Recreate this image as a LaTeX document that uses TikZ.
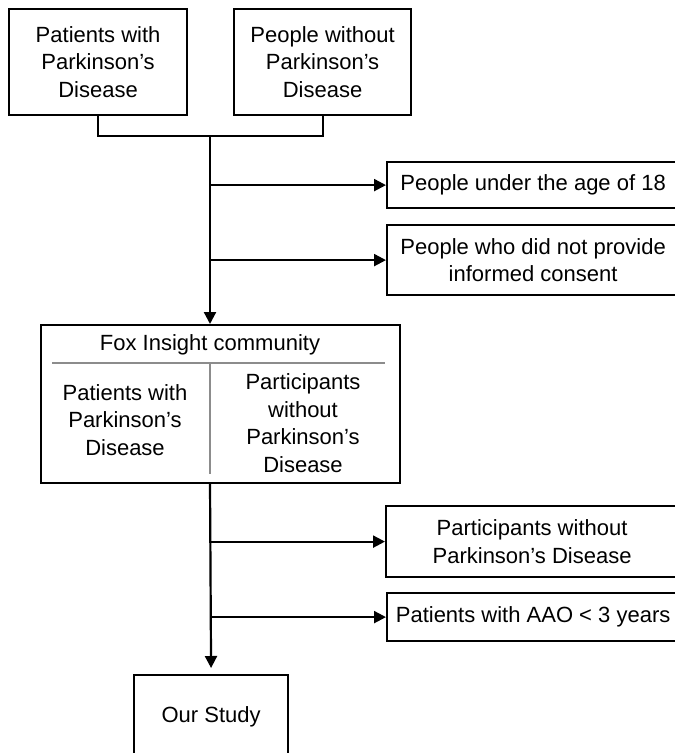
\documentclass[tikz,border=0pt]{standalone}
\usepackage{fontspec}
\setmainfont{Liberation Sans}
\usetikzlibrary{arrows.meta}
\begin{document}
\begin{tikzpicture}[x=1pt,y=-1pt,
  box/.style={draw,line width=2.2pt,anchor=north west,inner sep=0pt,align=center,
    font=\fontsize{22}{27.5}\selectfont},
  txt/.style={inner sep=0pt,align=center,font=\fontsize{22}{27.5}\selectfont},
  conn/.style={line width=2.2pt},
  arr/.style={line width=2.2pt,-{Triangle[length=12pt,width=12pt]}},
  divider/.style={line width=1.1pt,draw=black!45}]
\useasboundingbox (0,0) rectangle (675,753);
% top boxes
\node[box,minimum width=178pt,minimum height=106pt] (pd) at (8,8) {Patients with\\Parkinson’s\\Disease};
\node[box,minimum width=177pt,minimum height=106pt] (nopd) at (233,8) {People without\\Parkinson’s\\Disease};
\coordinate (j) at (210,136);
\draw[conn] (pd.south) -- (pd.south |- j) -| (nopd.south);
% exclusion boxes
\node[box,minimum width=292pt,minimum height=46pt] (age) at (386,161) {People under the age of 18};
\node[box,minimum width=292pt,minimum height=70pt] (consent) at (386,224) {People who did not provide\\informed consent};
% Fox insight box
\node[box,minimum width=359pt,minimum height=158pt] (fox) at (40,324) {};
\node[txt] (foxtitle) at (210,345) {Fox Insight community};
\node[txt] (foxleft) at (125,420) {Patients with\\Parkinson’s\\Disease};
\node[txt] (foxright) at (303,423) {Participants\\without\\Parkinson’s\\Disease};
\coordinate (dl) at (52,363);
\coordinate (dr) at (385,363);
\coordinate (dm) at (210,363);
\coordinate (db) at (210,474);
\draw[divider] (dl) -- (dr);
\draw[divider] (dm) -- (db);
% trunk to fox
\draw[arr] (j) -- (j |- fox.north);
\draw[arr] (age.west -| j) -- (age.west);
\draw[arr] (consent.west -| j) -- (consent.west);
% second exclusions
\node[box,minimum width=292pt,minimum height=71pt] (nopart) at (385,505) {Participants without\\Parkinson’s Disease};
\node[box,minimum width=292pt,minimum height=48pt] (aao) at (386,592) {Patients with AAO < 3 years};
% our study
\node[box,minimum width=154pt,minimum height=84pt] (study) at (133,674) {Our Study};
\coordinate (k) at (210,482);
\draw[arr,shorten >=6pt] (k) -- (study.north);
\draw[arr] (nopart.west -| k) -- (nopart.west);
\draw[arr] (aao.west -| k) -- (aao.west);
\end{tikzpicture}
\end{document}
